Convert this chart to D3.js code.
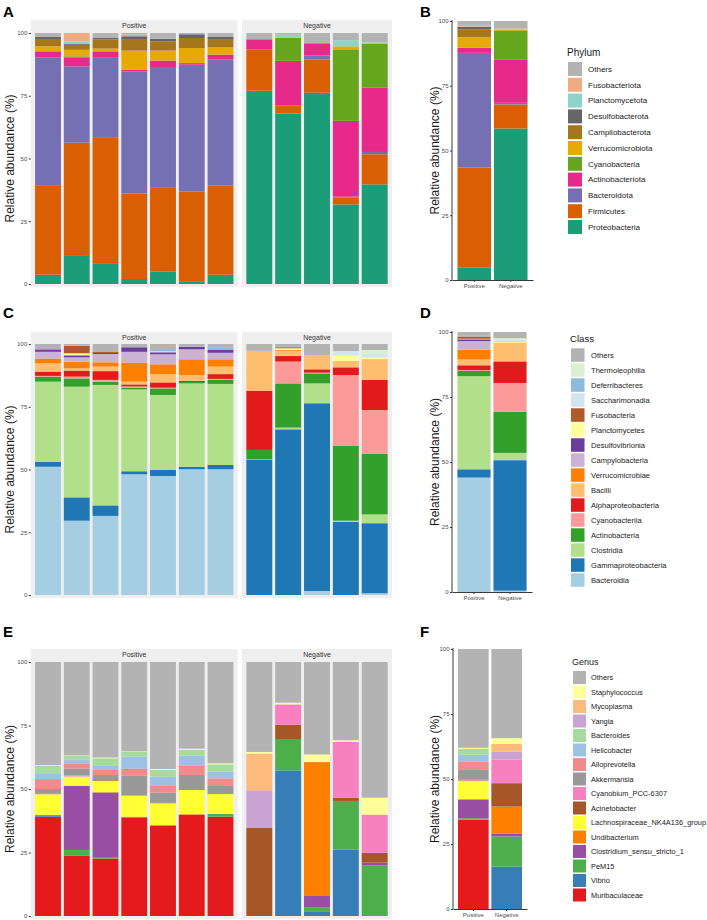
<!DOCTYPE html>
<html><head><meta charset="utf-8">
<script src="https://cdn.jsdelivr.net/npm/d3@7/dist/d3.min.js"></script>
<style>
body{margin:0;background:#fff}
svg{display:block}
text{font-family:"Liberation Sans",Arial,Helvetica,sans-serif}
</style>
</head><body>
<svg id="chart" width="707" height="920"></svg>
<script>
// ---------------- DATA ----------------
const positiveSamples = ["P1","P2","P3","P4","P5","P6","P7"];
const negativeSamples = ["N1","N2","N3","N4","N5"];
const groups = ["Positive","Negative"];
const yTicks = [0,25,50,75,100];

// Phylum (bottom -> top stacking order)
const phylumTaxa = ["Proteobacteria","Firmicutes","Bacteroidota","Actinobacteriota","Cyanobacteria",
  "Verrucomicrobiota","Campilobacterota","Desulfobacterota","Planctomycetota","Fusobacteriota","Others"];
const phylumColors = ["#1B9E77","#D95F02","#7570B3","#E7298A","#66A61E",
  "#E6AB02","#A6761D","#666666","#8DD3C7","#F0AC80","#B3B3B3"];
const phylumSampleValues = [
  [3.7,35.4,51.2,2.4,0,2.0,2.9,0.8,0,0,1.6],
  [11.5,44.8,30.4,3.6,0.4,2.6,2.0,0.4,1.0,3.3,0],
  [8.3,50.2,31.9,2.3,0,1.1,3.6,0.6,0,0,2.0],
  [2.0,34.0,48.7,0.7,0,7.6,4.3,1.4,0,0.6,0.7],
  [4.9,33.4,47.8,2.9,0,4.0,3.7,1.0,0,0,2.3],
  [1.1,35.7,50.6,0.6,0,6.0,4.0,1.5,0,0,0.5],
  [3.7,35.6,50.1,2.0,0,2.9,3.0,1.1,0,0,1.6],
  [77.0,16.5,0,4.0,0,0,0,0,0,0,2.5],
  [67.9,3.0,0.2,17.8,9.2,0,0,0,1.2,0,0.7],
  [76.2,13.3,1.6,4.7,0.4,0,0,0,0,0,3.8],
  [31.7,2.7,0.4,30.2,28.5,1.2,0,0,2.4,0,2.9],
  [39.7,12.0,0.9,25.7,17.5,0,0,0,0.4,0,3.8]
];
const phylumGroupValues = [
  [4.9,38.6,44.2,2.0,0.1,3.9,3.1,1.0,0.1,0.6,1.5],
  [58.5,9.3,0.6,16.8,11.2,0.2,0,0,0.4,0,3.0]
];

// Class
const classTaxa = ["Bacteroidia","Gammaproteobacteria","Clostridia","Actinobacteria","Cyanobacteriia",
  "Alphaproteobacteria","Bacilli","Verrucomicrobiae","Campylobacteria","Desulfovibrionia","Planctomycetes",
  "Fusobacteria","Saccharimonadia","Deferribacteres","Thermoleophilia","Others"];
const classColors = ["#A6CEE3","#1F78B4","#B2DF8A","#33A02C","#FB9A99",
  "#E31A1C","#FDBF6F","#FF7F00","#CAB2D6","#6A3D9A","#FFFF99",
  "#B15928","#D1E5F0","#8FBBDA","#D9F0D3","#B3B3B3"];
const classSampleValues = [
  [51.1,2.0,31.9,2.0,0.3,1.7,3.3,1.9,2.7,0.7,0,0.3,0,0,0,2.1],
  [29.6,9.3,44.1,3.3,0.7,2.4,0.9,2.7,1.7,0.8,0.8,3.0,0,0,0,0.7],
  [31.5,4.2,48.0,1.3,0.7,3.5,1.8,1.7,3.3,0.4,0,0.4,0,0,0,3.2],
  [48.1,1.2,32.6,0.7,0.5,0.8,1.1,7.6,4.3,1.8,0,0,0,0,0,1.3],
  [47.4,2.4,29.9,2.6,0.3,2.1,3.3,3.9,4.0,0.8,0,0,0.4,0.5,0,2.4],
  [50.1,1.0,33.2,0.6,0,0.4,2.3,6.3,4.0,1.0,0,0,0,0,0,1.1],
  [50.1,1.7,32.3,1.6,0.4,1.9,3.0,2.9,2.6,1.1,0,0,0,0.9,0,1.5],
  [0,53.8,0.2,3.8,0,23.6,15.9,0,0,0,0,0,0,0,0,2.7],
  [0,66.0,0.7,17.6,8.7,2.2,2.1,0.3,0,0,0.7,0.4,0,0,0,1.3],
  [1.6,74.8,7.9,4.0,0.3,1.3,5.7,0,0,0,0,0,0,0,0,4.4],
  [0,29.2,0.4,29.8,28.2,3.1,2.5,0,0,0,2.2,0,1.8,0,0,2.8],
  [0.7,27.9,3.5,24.1,17.5,12.0,8.3,0,0,0,0.7,0,1.3,0,1.6,2.4]
];
const classGroupValues = [
  [44.0,3.2,35.8,2.0,0.4,1.8,2.2,3.8,3.3,0.7,0.2,0.9,0.1,0.1,0,1.5],
  [0.5,50.2,2.8,15.8,11.1,8.3,7.1,0.1,0,0,0.4,0.1,0.6,0,0.6,2.4]
];

// Genus
const genusTaxa = ["Muribaculaceae","Vibrio","PeM15","Clostridium_sensu_stricto_1","Undibacterium",
  "Lachnospiraceae_NK4A136_group","Acinetobacter","Cyanobium_PCC-6307","Akkermansia","Alloprevotella",
  "Helicobacter","Bacteroides","Yangia","Mycoplasma","Staphylococcus","Others"];
const genusColors = ["#E41A1C","#377EB8","#4DAF4A","#984EA3","#FF7F00",
  "#FFFF33","#A65628","#F781BF","#999999","#F08A8B",
  "#9DC1E2","#A6DBA0","#CBA3D3","#FDBA7D","#FFFF99","#B3B3B3"];
const genusSampleValues = [
  [39.1,0.3,0.4,0,0,8.1,0,0.2,1.9,3.9,2.3,2.9,0,0,0.3,40.6],
  [23.8,0,2.2,25.3,0,3.6,0,0.5,2.7,2.0,1.5,1.4,0,0,0.2,36.8],
  [22.6,0,0.6,25.5,0,4.6,0.5,0,1.7,2.0,1.6,3.0,0,0,0.3,37.6],
  [38.8,0,0.3,0,0,8.3,0,0,7.8,2.9,4.6,1.9,0,0,0.2,35.2],
  [35.7,0,0,0,0,8.7,0.2,0,4.0,2.6,3.7,2.6,0,0,0.4,42.1],
  [40.0,0,0,0,0,9.6,0,0,5.9,3.6,4.0,2.3,0,0,0.5,34.1],
  [39.1,0,1.1,0,0,7.8,0,0,3.2,3.0,2.6,2.9,0,0,0.4,39.9],
  [0,0,0,0,0,0,34.8,0,0,0,0,0,14.7,14.4,0.7,35.4],
  [0,57.3,12.1,0,0,0,5.9,8.0,0,0,0,0,0,0,0.7,16.0],
  [0,1.6,1.7,4.6,52.7,0,0,0,0,0,0,0,0,0,3.0,36.4],
  [0,26.1,19.2,0,0,0,1.2,22.0,0,0,0,0,0,0,0.7,30.8],
  [0,0,19.9,1.1,0,0,3.9,15.0,0,0,0,0,0,0,6.7,53.4]
];
const genusGroupValues = [
  [34.3,0.1,0.5,7.3,0,7.1,0.2,0.2,3.8,3.1,2.7,2.3,0,0,0.4,38.0],
  [0,16.3,11.6,1.0,10.5,0,9.0,9.0,0,0,0,0,3.2,2.9,2.2,34.3]
];

// ---------------- LAYOUT ----------------
const svg = d3.select("#chart");
const allSamples = positiveSamples.concat(negativeSamples);

function toObjects(rows, ids, taxa){
  return rows.map((vals,i)=>{const o={id:ids[i]}; taxa.forEach((t,j)=>o[t]=vals[j]); return o;});
}
function drawStack(g, objs, taxa, colors, x, y){
  const series = d3.stack().keys(taxa)(objs);
  const color = d3.scaleOrdinal().domain(taxa).range(colors);
  g.selectAll("g.s").data(series).join("g").attr("class","s")
    .attr("fill", d=>color(d.key))
    .selectAll("rect").data(d=>d.filter(p=>p[1]-p[0]>0)).join("rect")
    .attr("x", d=>x(d.data.id)).attr("width", x.bandwidth())
    .attr("y", d=>y(d[1])).attr("height", d=>y(d[0])-y(d[1]));
}
function yTitle(cx, cy, size){
  svg.append("text").attr("transform",`translate(${cx},${cy}) rotate(-90)`)
    .attr("text-anchor","middle").attr("dy","0.35em").attr("font-size",size).attr("fill","#1a1a1a")
    .text("Relative abundance (%)");
}
function panelLabel(lbl, x, y){
  svg.append("text").attr("x",x).attr("y",y).attr("font-size",15).attr("font-weight","bold")
    .attr("fill","#000").text(lbl);
}

function facetPanel(cfg){
  const {taxa, colors, rows, stripTop, y100, y0} = cfg;
  const stripH = 11, panelBottom = y0 + 3;
  const y = d3.scaleLinear().domain([0,100]).range([y0, y100]);
  const objs = toObjects(rows, allSamples, taxa);
  const facets = [
    {name:"Positive", ids:positiveSamples, range:[30.75,237.75]},
    {name:"Negative", ids:negativeSamples, range:[242,392]}
  ];
  facets.forEach(f=>{
    const x = d3.scaleBand().domain(f.ids).range(f.range).paddingInner(0.1).paddingOuter(0.15);
    svg.append("rect").attr("x",f.range[0]).attr("y",stripTop).attr("width",f.range[1]-f.range[0])
      .attr("height",panelBottom-stripTop).attr("fill","#EFEFEF");
    svg.append("text").attr("x",(f.range[0]+f.range[1])/2).attr("y",stripTop+stripH/2)
      .attr("dy","0.35em").attr("text-anchor","middle").attr("font-size",7).attr("fill","#333")
      .text(f.name);
    const g = svg.append("g");
    drawStack(g, objs.filter(o=>f.ids.includes(o.id)), taxa, colors, x, y);
  });
  const ax = svg.append("g").attr("transform","translate(30.75,0)")
    .call(d3.axisLeft(y).tickValues(yTicks).tickSize(2).tickPadding(1.5));
  ax.select(".domain").remove();
  ax.selectAll("line").attr("stroke","#333");
  ax.selectAll("text").attr("font-size",6).attr("fill","#4D4D4D").style("font-family","Liberation Sans, Arial, sans-serif");
  yTitle(10, (y0+y100)/2, 12);
}

function groupPanel(cfg){
  const {taxa, colors, rows, xr, y100, y0, labelY} = cfg;
  const y = d3.scaleLinear().domain([0,100]).range([y0, y100]);
  const x = d3.scaleBand().domain(groups).range(xr).paddingInner(0.08).paddingOuter(0.15);
  const g = svg.append("g");
  drawStack(g, toObjects(rows, groups, taxa), taxa, colors, x, y);
  const ay = svg.append("g").attr("transform",`translate(${xr[0]},0)`)
    .call(d3.axisLeft(y).tickValues(yTicks).tickSize(2).tickPadding(1.5).tickSizeOuter(0));
  const ax = svg.append("g").attr("transform",`translate(0,${y0})`)
    .call(d3.axisBottom(x).tickSize(2).tickPadding(1.5).tickSizeOuter(0));
  [ay,ax].forEach(a=>{
    a.select(".domain").attr("stroke","#222").attr("stroke-width",0.9);
    a.selectAll(".tick line").attr("stroke","#333");
    a.selectAll("text").attr("font-size",6).attr("fill","#4D4D4D").style("font-family","Liberation Sans, Arial, sans-serif");
  });
  ay.select(".domain").attr("d",`M0,${y100-1}V${y0}`);
  yTitle(435, (y0+y100)/2, 12);
}

function legend(cfg){
  const {title, taxa, colors, x, titleY, keyTop, keySize, step, titleSize, labelSize, labelX} = cfg;
  svg.append("text").attr("x",x-1).attr("y",titleY).attr("font-size",titleSize).attr("fill","#1a1a1a").text(title);
  const items = taxa.map((t,i)=>({t, c:colors[i]})).reverse();
  const g = svg.append("g");
  items.forEach((d,i)=>{
    const yy = keyTop + i*step;
    g.append("rect").attr("x",x).attr("y",yy).attr("width",keySize).attr("height",keySize).attr("fill",d.c);
    g.append("text").attr("x",labelX).attr("y",yy+keySize/2).attr("dy","0.35em")
      .attr("font-size",labelSize).attr("fill","#1a1a1a").text(d.t);
  });
}

// Row 1: Phylum
facetPanel({taxa:phylumTaxa, colors:phylumColors, rows:phylumSampleValues, stripTop:20, y100:33, y0:284});
groupPanel({taxa:phylumTaxa, colors:phylumColors, rows:phylumGroupValues, xr:[452,533], y100:21, y0:280});
legend({title:"Phylum", taxa:phylumTaxa, colors:phylumColors, x:568, titleY:56, keyTop:62, keySize:14,
  step:15.8, titleSize:10, labelSize:8, labelX:588});
panelLabel("A", 3, 17); panelLabel("B", 420, 17);

// Row 2: Class
facetPanel({taxa:classTaxa, colors:classColors, rows:classSampleValues, stripTop:332, y100:344, y0:595});
groupPanel({taxa:classTaxa, colors:classColors, rows:classGroupValues, xr:[452,532], y100:332, y0:592});
legend({title:"Class", taxa:classTaxa, colors:classColors, x:571, titleY:342, keyTop:348.3, keySize:13.5,
  step:15, titleSize:9.6, labelSize:7.6, labelX:591});
panelLabel("C", 3, 318); panelLabel("D", 420, 318);

// Row 3: Genus
facetPanel({taxa:genusTaxa, colors:genusColors, rows:genusSampleValues, stripTop:649, y100:662, y0:916});
groupPanel({taxa:genusTaxa, colors:genusColors, rows:genusGroupValues, xr:[453,527], y100:649, y0:909});
legend({title:"Genus", taxa:genusTaxa, colors:genusColors, x:573, titleY:665, keyTop:671, keySize:13,
  step:14.5, titleSize:9, labelSize:7.4, labelX:591});
panelLabel("E", 3, 637); panelLabel("F", 420, 637);
</script>
</body></html>
